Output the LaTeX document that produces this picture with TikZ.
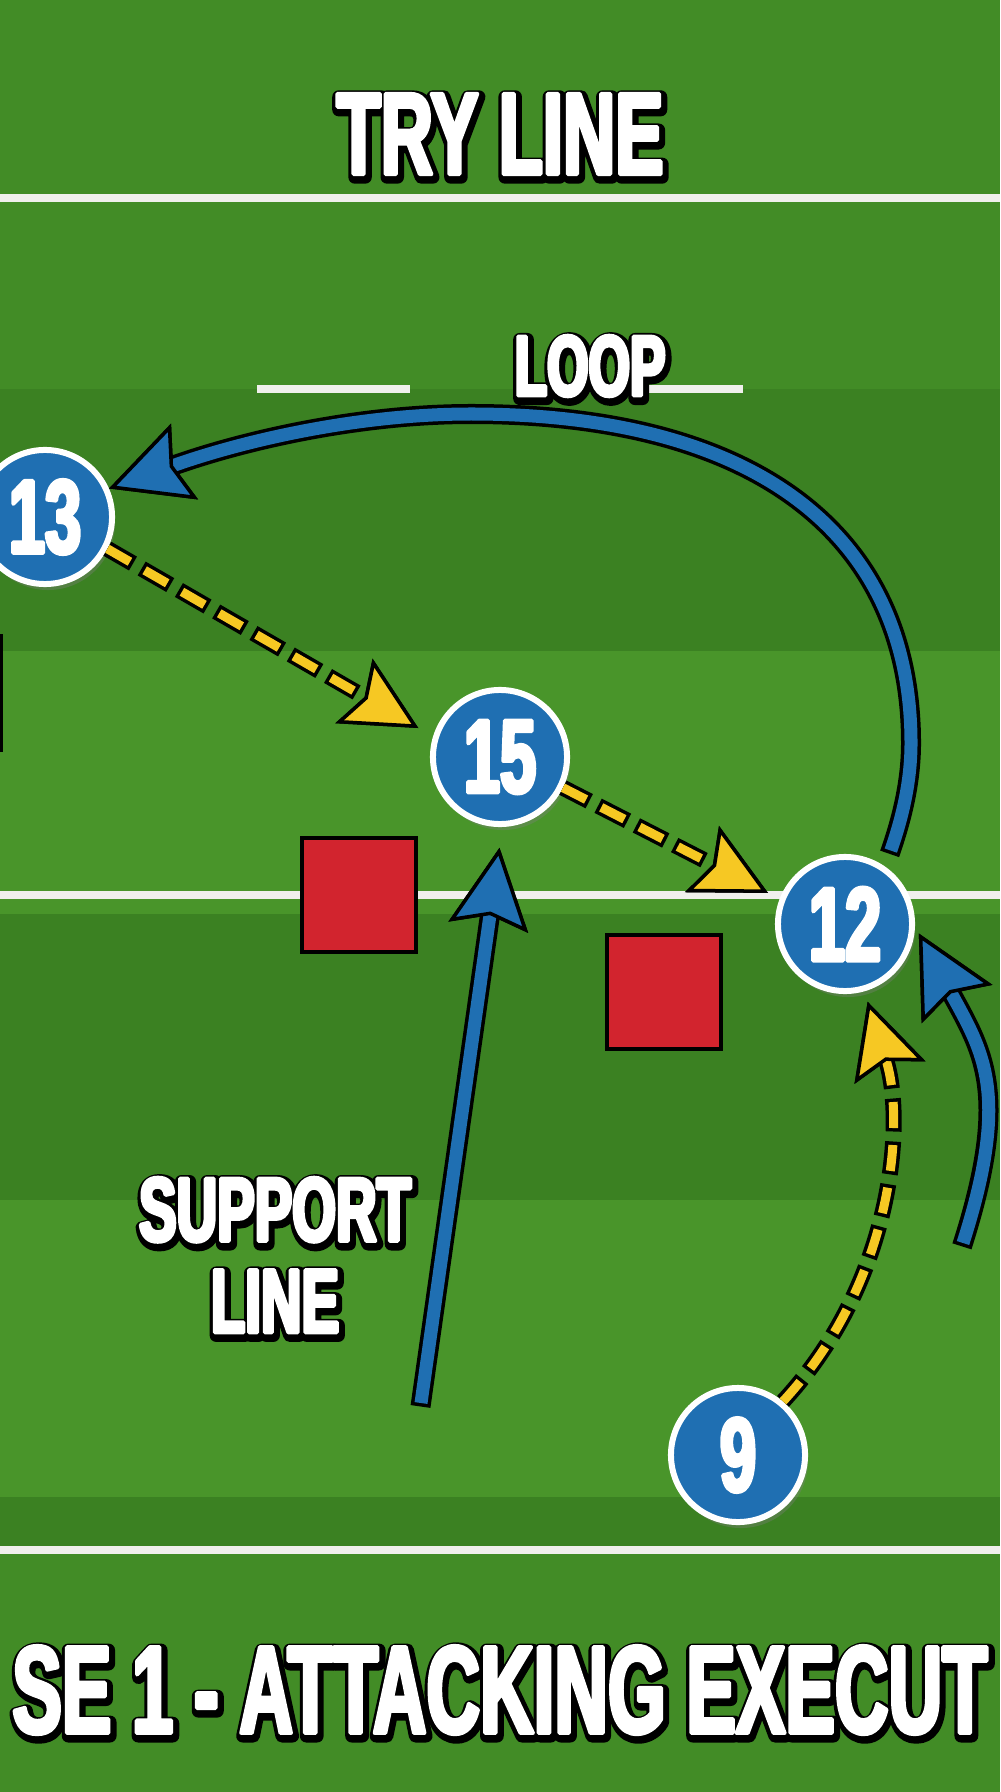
\documentclass[tikz,border=0pt]{standalone}
\usepackage{fontspec}
\usepackage{tikz}
\usetikzlibrary{arrows.meta,calc,shadows}
\newfontfamily\condfont[FakeStretch=0.62]{Liberation Sans}
\newfontfamily\bannerfont[FakeStretch=0.595]{Liberation Sans}
\definecolor{grassmid}{RGB}{66,140,38}
\definecolor{grassdark}{RGB}{59,129,34}
\definecolor{grasslight}{RGB}{73,149,42}
\definecolor{pitchwhite}{RGB}{240,240,236}
\definecolor{kitblue}{RGB}{31,111,178}
\definecolor{padred}{RGB}{210,36,46}
\definecolor{passyellow}{RGB}{246,200,35}
\tikzset{
  >=Stealth,
  labeltext/.style={font=\condfont\bfseries\fontsize{#1}{26}\selectfont, inner sep=0pt, align=center},
  bannertext/.style={font=\bannerfont\bfseries\fontsize{#1}{#1}\selectfont, inner sep=0pt},
  player/.style={circle, fill=kitblue, draw=white, line width=0.06cm, minimum size=1.34cm,
    inner sep=0pt, text=white, labeltext=29.8,
    drop shadow={opacity=0.35, shadow xshift=0.03cm, shadow yshift=-0.06cm}},
  defender/.style={rectangle, fill=padred, draw=black, line width=0.035cm,
    minimum width=1.14cm, minimum height=1.14cm, inner sep=0pt},
  pitchline/.style={draw=pitchwhite, line width=0.085cm},
  run/.style={draw=kitblue, line width=0.13cm,
    -{Stealth[length=0.8cm, width=0.8cm, inset=0.12cm, fill=kitblue, color=black, line width=0.035cm]},
    preaction={draw=black, line width=0.2cm, shorten <=#1,
      -{Stealth[length=0.8cm, width=0.8cm, inset=0.12cm, line width=0.035cm]}}},
  run/.default=-0.035cm,
  pass/.style={draw=passyellow, line width=0.09cm, dash pattern=on 0.26cm off 0.17cm,
    -{Stealth[length=0.74cm, width=0.74cm, inset=0.12cm, fill=passyellow, color=black, line width=0.035cm]},
    preaction={draw=black, line width=0.16cm, dash pattern=on 0.33cm off 0.1cm, dash phase=0.035cm,
      -{Stealth[length=0.74cm, width=0.74cm, inset=0.12cm, line width=0.035cm]}}},
}
% fill and stroke the glyphs (stroke width in bp)
\newcommand{\strokedtext}[2]{\special{pdf:literal direct 2 Tr #1 w 1 j}#2\special{pdf:literal direct 0 Tr}}
\newcommand{\heavy}[1]{\strokedtext{1.1}{#1}}
% white text with a black rim
\newcommand{\pitchlabel}[4]{%
  \node[#3, text=black] at ($(#2)+(1.5,3)$) {\strokedtext{3.7}{#4}};
  \node[#3, text=white] (#1) at (#2) {\heavy{#4}};
}

\begin{document}
\begin{tikzpicture}[x=0.01cm, y=-0.01cm]
\useasboundingbox (0,0) rectangle (1000,1792);
\clip (0,0) rectangle (1000,1792);

% grass stripes
\fill[grassmid] (0,0) rectangle (1000,1792);
\fill[grassdark] (0,389) rectangle (1000,651);
\fill[grasslight] (0,651) rectangle (1000,914);
\fill[grassdark] (0,914) rectangle (1000,1200);
\fill[grasslight] (0,1200) rectangle (1000,1497);
\fill[grassdark] (0,1497) rectangle (1000,1550);

% pitch markings
\draw[pitchline] (0,198) -- (1000,198);
\draw[pitchline] (257,389) -- (410,389);
\draw[pitchline] (647,389) -- (743,389);
\draw[pitchline] (0,895) -- (1000,895);
\draw[pitchline] (0,1550) -- (1000,1550);

\pitchlabel{trylabel}{500,134}{labeltext=33.2}{TRY LINE}
\pitchlabel{looplabel}{590,366}{labeltext=24.4}{LOOP}
\pitchlabel{supportlabel}{275,1255}{labeltext=25.8}{SUPPORT\\LINE}
\pitchlabel{phaselabel}{500,1690}{bannertext=35.5}{SE 1 - ATTACKING EXECUT}

% defenders
\node[defender] (def0) at (-56,693) {};
\node[defender] (def1) at (359,895) {};
\node[defender] (def2) at (664,992) {};

% attackers
\node[player] (p13) at (45,517) {\heavy{13}};
\node[player] (p15) at (500,757) {\heavy{15}};
\node[player] (p12) at (845,924) {\heavy{12}};
\node[player] (p9) at (738,1455) {\heavy{9}};

\coordinate (supporttail) at (421,1403);
\coordinate (wraptail) at (963,1243);

% runs
\draw[run=0.135cm, shorten <=0.17cm] (p12.55) .. controls (905,810) and (911,775) .. (911,743)
  .. controls (911,532) and (753,414) .. (471,414)
  .. controls (360,414) and (245,440) .. (p13.24);
\draw[run, shorten >=0.21cm] (supporttail) -- (p15.-88);
\draw[run, shorten >=0.08cm] (wraptail) .. controls (1011,1093) and (983,1052) .. (p12.-2);

% passes
\draw[pass, shorten >=0.17cm] (p13.-27) -- (p15.163);
\draw[pass, shorten >=0.13cm] (p15.-26) -- (p12.159);
\draw[pass, shorten >=0.11cm] (p9.50) .. controls (895,1280) and (905,1120) .. (p12.-74);
\end{tikzpicture}
\end{document}
